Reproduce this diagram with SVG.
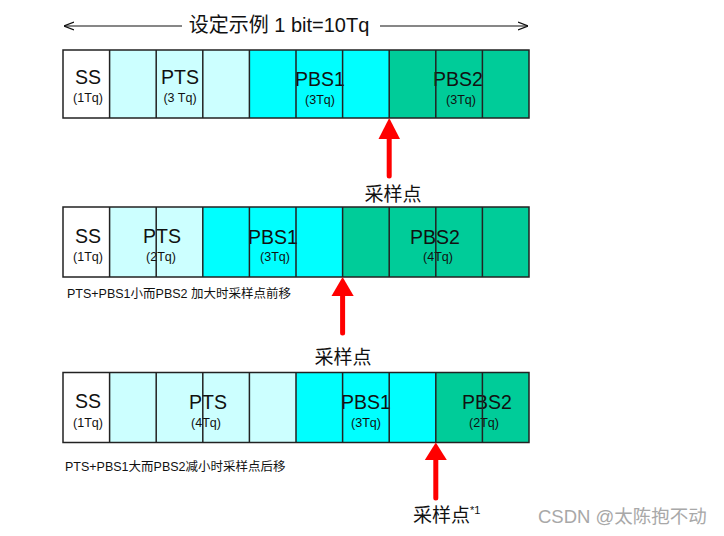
<svg xmlns="http://www.w3.org/2000/svg" width="724" height="536" viewBox="0 0 724 536">
<defs>
<style>
text{font-family:"Liberation Sans","Noto Sans CJK SC",sans-serif;fill:#111}
.big{font-size:19.5px;text-anchor:middle}
.sm{font-size:12.5px;text-anchor:middle}
.cap{font-size:12.5px}
.lbl{font-size:19px;text-anchor:middle}
.w{fill:#ffffff}.lc{fill:#ccffff}.c{fill:#00ffff}.g{fill:#00cc99}
.grid{stroke:#222;stroke-width:1.5;fill:none}
.dim{stroke:#111;stroke-width:1.2;fill:none}
.red{fill:#ff0000}
.redl{stroke:#ff0000;stroke-width:5;stroke-linecap:round}
</style>
<marker id="open" viewBox="0 0 10 10" refX="10" refY="5" markerWidth="10" markerHeight="10" markerUnits="userSpaceOnUse" orient="auto-start-reverse">
<path d="M0,1 L10,5 L0,9" fill="none" stroke="#111" stroke-width="1.2"/>
</marker>
</defs>
<rect width="724" height="536" fill="#fff"/>

<g id="title">
<line class="dim" x1="182" y1="26" x2="64" y2="26" marker-end="url(#open)"/>
<line class="dim" x1="380" y1="26" x2="528" y2="26" marker-end="url(#open)"/>
<text x="279" y="32" class="lbl" style="font-size:20px">设定示例 1 bit=10Tq</text>
</g>

<g id="row1">
<rect class="w" x="63" y="50" width="46.6" height="68"/>
<rect class="lc" x="109.6" y="50" width="139.8" height="68"/>
<rect class="c" x="249.4" y="50" width="139.8" height="68"/>
<rect class="g" x="389.2" y="50" width="139.8" height="68"/>
<text class="big" x="88" y="84">SS</text>
<text class="sm" x="88" y="102">(1Tq)</text>
<text class="big" x="180" y="84">PTS</text>
<text class="sm" x="180" y="102">(3 Tq)</text>
<text class="big" x="320" y="86">PBS1</text>
<text class="sm" x="320" y="104">(3Tq)</text>
<text class="big" x="458" y="86">PBS2</text>
<text class="sm" x="461" y="104">(3Tq)</text>
<g class="grid">
<rect x="63" y="50" width="466" height="68"/>
<path d="M109.6,50V118M156.2,50V118M202.8,50V118M249.4,50V118M296,50V118M342.6,50V118M389.2,50V118M435.8,50V118M482.4,50V118"/>
</g>
</g>

<g id="row2">
<rect class="w" x="63" y="207" width="46.6" height="70"/>
<rect class="lc" x="109.6" y="207" width="93.2" height="70"/>
<rect class="c" x="202.8" y="207" width="139.8" height="70"/>
<rect class="g" x="342.6" y="207" width="186.4" height="70"/>
<text class="big" x="88" y="243">SS</text>
<text class="sm" x="88" y="261">(1Tq)</text>
<text class="big" x="162" y="243">PTS</text>
<text class="sm" x="161" y="261">(2Tq)</text>
<text class="big" x="273" y="244">PBS1</text>
<text class="sm" x="275" y="261">(3Tq)</text>
<text class="big" x="435" y="244">PBS2</text>
<text class="sm" x="438" y="261">(4Tq)</text>
<g class="grid">
<rect x="63" y="207" width="466" height="70"/>
<path d="M109.6,207V277M156.2,207V277M202.8,207V277M249.4,207V277M296,207V277M342.6,207V277M389.2,207V277M435.8,207V277M482.4,207V277"/>
</g>
<text class="cap" x="67" y="298">PTS+PBS1小而PBS2 加大时采样点前移</text>
</g>

<g id="row3">
<rect class="w" x="63" y="372.5" width="46.6" height="70"/>
<rect class="lc" x="109.6" y="372.5" width="186.4" height="70"/>
<rect class="c" x="296" y="372.5" width="139.8" height="70"/>
<rect class="g" x="435.8" y="372.5" width="93.2" height="70"/>
<text class="big" x="88" y="408">SS</text>
<text class="sm" x="88" y="427">(1Tq)</text>
<text class="big" x="208" y="409">PTS</text>
<text class="sm" x="206" y="427">(4Tq)</text>
<text class="big" x="366" y="409">PBS1</text>
<text class="sm" x="366" y="427">(3Tq)</text>
<text class="big" x="487" y="409">PBS2</text>
<text class="sm" x="484" y="427">(2Tq)</text>
<g class="grid">
<rect x="63" y="372.5" width="466" height="70"/>
<path d="M109.6,372.5V442.5M156.2,372.5V442.5M202.8,372.5V442.5M249.4,372.5V442.5M296,372.5V442.5M342.6,372.5V442.5M389.2,372.5V442.5M435.8,372.5V442.5M482.4,372.5V442.5"/>
</g>
<text class="cap" x="65" y="471">PTS+PBS1大而PBS2减小时采样点后移</text>
</g>

<g id="connectors">
<line class="redl" x1="389.2" y1="135" x2="389.2" y2="176"/>
<polygon class="red" points="389.2,118 378.5,139 400,139"/>
<line class="redl" x1="342.6" y1="292" x2="342.6" y2="333"/>
<polygon class="red" points="342.6,277 331.5,296 353.7,296"/>
<line class="redl" x1="435.8" y1="456" x2="435.8" y2="498"/>
<polygon class="red" points="435.8,442.5 424.8,460 446.8,460"/>
</g>

<g id="labels">
<text class="lbl" x="393" y="201">采样点</text>
<text class="lbl" x="343" y="364">采样点</text>
<text x="413" y="522" style="font-size:19px">采样点<tspan dy="-8" style="font-size:11px">*1</tspan></text>
<text x="538" y="523" style="font-size:18.5px;fill:#a8a8a8">CSDN @太陈抱不动</text>
</g>
</svg>
